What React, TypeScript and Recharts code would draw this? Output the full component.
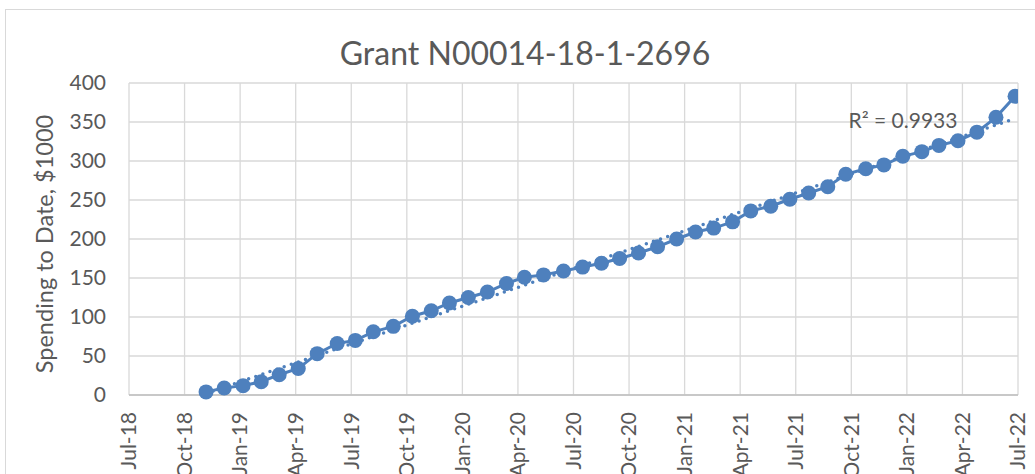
import React from 'react';
import { LineChart, Line, XAxis, YAxis, CartesianGrid } from 'recharts';

// Months elapsed since 1 Jul 2018
const monthOffsets = [
  4.16, 5.14, 6.16, 7.14, 8.11, 9.14, 10.16, 11.24, 12.22, 13.19, 14.27,
  15.3, 16.32, 17.3, 18.32, 19.35, 20.38, 21.35, 22.38, 23.46, 24.49,
  25.51, 26.49, 27.51, 28.54, 29.57, 30.59, 31.57, 32.59, 33.57, 34.65,
  35.68, 36.7, 37.73, 38.7, 39.78, 40.76, 41.78, 42.81, 43.73, 44.76,
  45.78, 46.81, 47.84,
];
// Spending to date, $1000
const spending = [
  4, 9, 12, 17, 26, 34, 53, 66, 70, 81, 88,
  101, 108, 118, 125, 132, 143, 151, 154, 159, 164,
  169, 175, 182, 190, 200, 209, 214, 222, 236, 242,
  251, 259, 267, 283, 290, 295, 306, 312, 320, 326,
  337, 356, 383,
];
const xTickValues = [0, 3, 6, 9, 12, 15, 18, 21, 24, 27, 30, 33, 36, 39, 42, 45, 48];
const xTickLabels = [
  'Jul-18', 'Oct-18', 'Jan-19', 'Apr-19', 'Jul-19', 'Oct-19', 'Jan-20', 'Apr-20',
  'Jul-20', 'Oct-20', 'Jan-21', 'Apr-21', 'Jul-21', 'Oct-21', 'Jan-22', 'Apr-22', 'Jul-22',
];
const yTickValues = [0, 50, 100, 150, 200, 250, 300, 350, 400];
const chartTitle = 'Grant N00014-18-1-2696';
const yAxisTitle = 'Spending to Date, $1000';
const rSquaredLabel = 'R² = 0.9933';

const data = monthOffsets.map((m, i) => ({ x: m, y: spending[i] }));

// linear trendline (least squares), as Excel computes it
const n = monthOffsets.length;
const sx = monthOffsets.reduce((a, b) => a + b, 0);
const sy = spending.reduce((a, b) => a + b, 0);
const sxx = monthOffsets.reduce((a, b) => a + b * b, 0);
const sxy = monthOffsets.reduce((a, b, i) => a + b * spending[i], 0);
const slope = (n * sxy - sx * sy) / (n * sxx - sx * sx);
const intercept = (sy - slope * sx) / n;
const trend = [monthOffsets[0], monthOffsets[n - 1]].map((x) => ({ x, t: intercept + slope * x }));

const BLUE = '#4E80BD';
const TEXT = '#595959';
const FONT = 'Lato, "Open Sans", sans-serif';

const XTick = (props: any) => {
  const { x, y, payload } = props;
  const idx = xTickValues.indexOf(payload.value);
  const ty = y + 17;
  return (
    <text
      x={x}
      y={ty}
      dy="0.35em"
      transform={`rotate(-90 ${x} ${ty})`}
      textAnchor="end"
      fill={TEXT}
      fontSize={21}
      fontFamily={FONT}
    >
      {idx >= 0 ? xTickLabels[idx] : ''}
    </text>
  );
};

export default function App() {
  return (
    <div
      style={{
        position: 'absolute',
        left: 0,
        top: 0,
        width: 1035,
        height: 474,
        overflow: 'hidden',
        background: '#fff',
      }}
    >
      <div
        style={{
          position: 'absolute',
          left: 5,
          top: 9,
          width: 1100,
          height: 600,
          border: '1px solid #D9D9D9',
          boxSizing: 'border-box',
        }}
      />
      <div style={{ position: 'absolute', left: 0, top: 0 }}>
        <LineChart
          width={1035}
          height={474}
          data={data}
          margin={{ top: 83, right: 17, bottom: 0, left: 0 }}
        >
          <CartesianGrid stroke="#D9D9D9" strokeWidth={1.3} />
          <XAxis
            type="number"
            dataKey="x"
            domain={[0, 48]}
            ticks={xTickValues}
            interval={0}
            height={79}
            tickSize={0}
            tickMargin={0}
            tickLine={false}
            axisLine={{ stroke: '#BFBFBF', strokeWidth: 1.3 }}
            tick={<XTick />}
            allowDataOverflow
          />
          <YAxis
            type="number"
            domain={[0, 400]}
            ticks={yTickValues}
            interval={0}
            width={129}
            tickSize={0}
            tickMargin={23}
            tickLine={false}
            axisLine={false}
            tick={{ fill: TEXT, fontSize: 21, fontFamily: FONT }}
          />
          <Line
            dataKey="y"
            stroke={BLUE}
            strokeWidth={3}
            dot={{ r: 7.5, fill: BLUE, stroke: BLUE, strokeWidth: 0 }}
            activeDot={false}
            isAnimationActive={false}
          />
          <Line
            data={trend}
            dataKey="t"
            stroke={BLUE}
            strokeWidth={3.5}
            strokeDasharray="0 7.5"
            strokeLinecap="round"
            dot={false}
            activeDot={false}
            isAnimationActive={false}
          />
        </LineChart>
      </div>
      <svg
        width={1035}
        height={474}
        style={{ position: 'absolute', left: 0, top: 0, pointerEvents: 'none' }}
      >
        <text x={525} y={65} textAnchor="middle" fill={TEXT} fontSize={32} fontFamily={FONT}>
          {chartTitle}
        </text>
        <text
          x={53}
          y={244}
          textAnchor="middle"
          transform="rotate(-90 53 244)"
          fill={TEXT}
          fontSize={23.5}
          fontFamily={FONT}
        >
          {yAxisTitle}
        </text>
        <text x={903} y={128} textAnchor="middle" fill={TEXT} fontSize={21} fontFamily={FONT}>
          {rSquaredLabel}
        </text>
      </svg>
    </div>
  );
}
